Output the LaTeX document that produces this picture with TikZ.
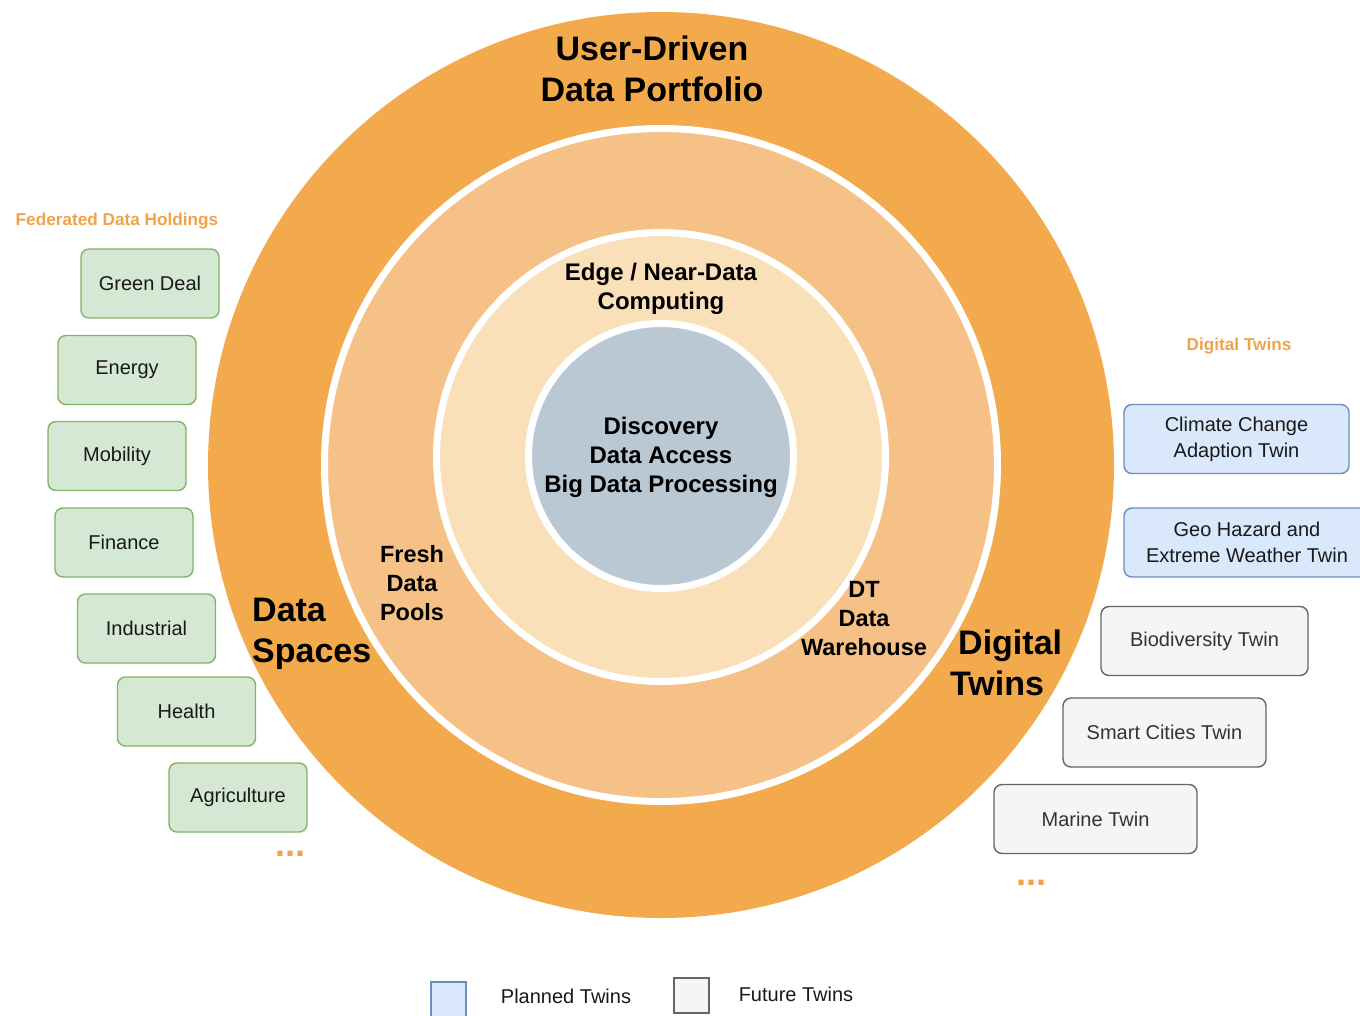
\documentclass[tikz,border=0pt]{standalone}
\usepackage{fontspec}
\setmainfont{Liberation Sans}
\definecolor{ringA}{RGB}{243,170,77}
\definecolor{ringB}{RGB}{246,193,134}
\definecolor{ringC}{RGB}{250,224,185}
\definecolor{core}{RGB}{186,200,212}
\definecolor{lbl}{RGB}{241,163,74}
\definecolor{gfill}{RGB}{213,232,212}
\definecolor{gline}{RGB}{130,179,102}
\definecolor{bfill}{RGB}{218,232,252}
\definecolor{bline}{RGB}{108,142,191}
\definecolor{ffill}{RGB}{245,245,245}
\definecolor{fline}{RGB}{102,102,102}
\definecolor{txt}{RGB}{25,25,25}
\definecolor{txtg}{RGB}{51,51,51}
\tikzset{
  boxbase/.style={rounded corners=8pt, line width=1.4pt, minimum height=69pt, align=center, font=\fontsize{20}{26}\selectfont},
  greenbox/.style={boxbase, draw=gline, fill=gfill, text=txt, minimum width=138pt},
  bluebox/.style={boxbase, draw=bline, fill=bfill, text=txt},
  greybox/.style={boxbase, draw=fline, fill=ffill, text=txtg, minimum width=203pt},
  biglbl/.style={font=\fontsize{34}{41}\selectfont\bfseries, text=black},
  midlbl/.style={font=\fontsize{23.5}{29}\selectfont\bfseries, text=black, align=center},
  innlbl/.style={font=\fontsize{24}{29}\selectfont\bfseries, text=black, align=center},
  headlbl/.style={font=\fontsize{17.2}{20}\selectfont\bfseries, text=lbl},
  dots/.style={font=\fontsize{36}{36}\selectfont\bfseries, text=lbl, anchor=base, inner sep=0pt},
  legtxt/.style={font=\fontsize{20}{24}\selectfont, text=txt}
}
\begin{document}
\begin{tikzpicture}[x=1pt,y=-1pt]
\useasboundingbox (0,0) rectangle (1360,1015);
\fill[white] (0,0) rectangle (1360,1015);
% rings
\fill[ringA] (661,465) circle (453);
\draw[white, line width=7pt, fill=ringB] (661,465) circle (336.5);
\draw[white, line width=7pt, fill=ringC] (661,457) circle (224.5);
\draw[white, line width=7pt, fill=core] (661,456) circle (132.5);
% ring labels
\node[biglbl, align=center] (udp) at (652,69) {User-Driven\\Data Portfolio};
\node[biglbl, align=left, anchor=west, inner sep=0pt] (ds) at (252,634) {Data\\Spaces};
\node[biglbl, anchor=west, inner sep=0pt] (dt1) at (958,646) {Digital};
\node[biglbl, anchor=west, inner sep=0pt] (dt2) at (950,683) {Twins};
\node[midlbl] (fdp) at (412,583) {Fresh\\Data\\Pools};
\node[midlbl] (dtw) at (864,619) {DT\\Data\\Warehouse};
\node[innlbl] (edge) at (661,289) {Edge / Near-Data\\Computing};
\node[innlbl] (disc) at (661,457.5) {Discovery\\Data Access\\Big Data Processing};
% left
\node[headlbl] (fdh) at (117,221) {Federated Data Holdings};
\node[greenbox] (gd) at (150,283.5) {Green Deal};
\node[greenbox] (en) at (127,370) {Energy};
\node[greenbox] (mo) at (117,456) {Mobility};
\node[greenbox] (fi) at (124,542.5) {Finance};
\node[greenbox] (in) at (146.5,628.5) {Industrial};
\node[greenbox] (he) at (186.5,711.5) {Health};
\node[greenbox] (ag) at (238,797.5) {Agriculture};
\node[dots] (ldots) at (290,856) {...};
% right
\node[headlbl] (dtl) at (1239,346) {Digital Twins};
\node[bluebox, minimum width=225pt] (cc) at (1236.5,439) {Climate Change\\Adaption Twin};
\node[bluebox, minimum width=246pt] (gh) at (1247,542.5) {Geo Hazard and\\Extreme Weather Twin};
\node[greybox, minimum width=207pt] (bio) at (1204.5,641) {Biodiversity Twin};
\node[greybox] (sc) at (1164.5,732.5) {Smart Cities Twin};
\node[greybox] (mar) at (1095.5,819) {Marine Twin};
\node[dots] (rdots) at (1031,885) {...};
% legend
\node[draw=bline, fill=bfill, line width=1.4pt, minimum width=35pt, minimum height=36pt, inner sep=0pt] (lgb) at (448.5,1000) {};
\node[legtxt] (lgbt) at (566,996) {Planned Twins};
\node[draw=fline, fill=ffill, line width=1.4pt, minimum width=35pt, minimum height=35pt, inner sep=0pt] (lgf) at (691.5,995.5) {};
\node[legtxt] (lgft) at (796,994) {Future Twins};
\end{tikzpicture}
\end{document}
